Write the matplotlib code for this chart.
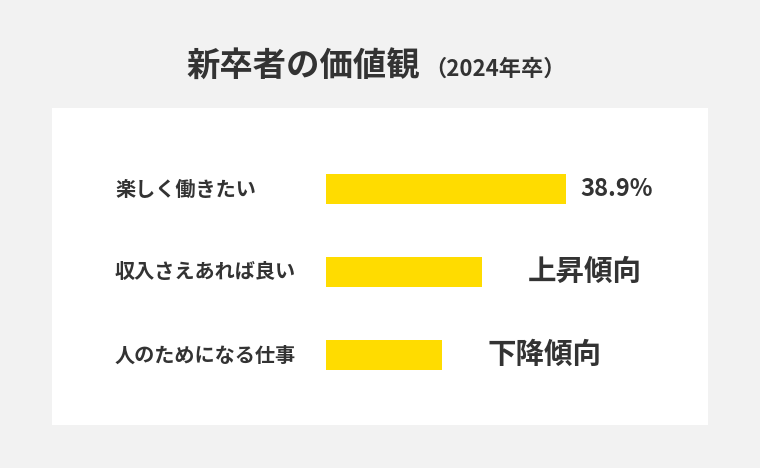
import matplotlib.pyplot as plt
import matplotlib.transforms as mtransforms

plt.rcParams['font.family'] = ['Noto Sans CJK JP', 'DejaVu Sans']

# data
categories = ['楽しく働きたい', '収入さえあれば良い', '人のためになる仕事']
values = [38.9, 25.3, 18.8]
value_labels = ['38.9%', '上昇傾向', '下降傾向']
label_sizes = [17, 20.5, 20.5]
label_gaps = [10, 33, 33]  # points past bar end

title = '新卒者の価値観'
subtitle = '（2024年卒）'

bg = '#f2f2f2'
bar_color = '#ffdc00'
text_color = '#333333'

W, H = 760, 468
fig = plt.figure(figsize=(W / 100, H / 100), dpi=100, facecolor=bg)

# white panel area in pixels
px_left, px_right, px_top, px_bottom = 52, 708, 108, 425
ax = fig.add_axes([px_left / W, 1 - px_bottom / H,
                   (px_right - px_left) / W, (px_bottom - px_top) / H])
ax.set_facecolor('white')
for s in ax.spines.values():
    s.set_visible(False)
ax.set_xticks([])
ax.set_yticks([])

# scale: 38.9 -> 240 px, bars start at x=326
px_per_unit = 240 / 38.9
bar_start = 326
ax.set_xlim(-(bar_start - px_left) / px_per_unit, (px_right - bar_start) / px_per_unit)
row_px = 83
first_center = 189
ax.set_ylim((px_bottom - first_center) / row_px, -(first_center - px_top) / row_px)

ypos = list(range(len(categories)))
ax.barh(ypos, values, height=30 / row_px, color=bar_color, left=0)

trans = mtransforms.blended_transform_factory(ax.transAxes, ax.transData)
for y, cat in zip(ypos, categories):
    ax.text((115 - px_left) / (px_right - px_left), y, cat, transform=trans,
            ha='left', va='center', fontsize=14.5, fontweight='bold', color=text_color)

for y, v, lab, fs, gap in zip(ypos, values, value_labels, label_sizes, label_gaps):
    ax.annotate(lab, (v, y), xytext=(gap, 0), textcoords='offset points',
                ha='left', va='center', fontsize=fs, fontweight='bold', color=text_color)

fig.text(186 / W, 1 - 67 / H, title, ha='left', va='center', fontsize=24,
         fontweight='bold', color=text_color)
fig.text(424 / W, 1 - 69 / H, subtitle, ha='left', va='center', fontsize=16,
         fontweight='bold', color=text_color)

fig.savefig('out.png', dpi=100, facecolor=bg)
